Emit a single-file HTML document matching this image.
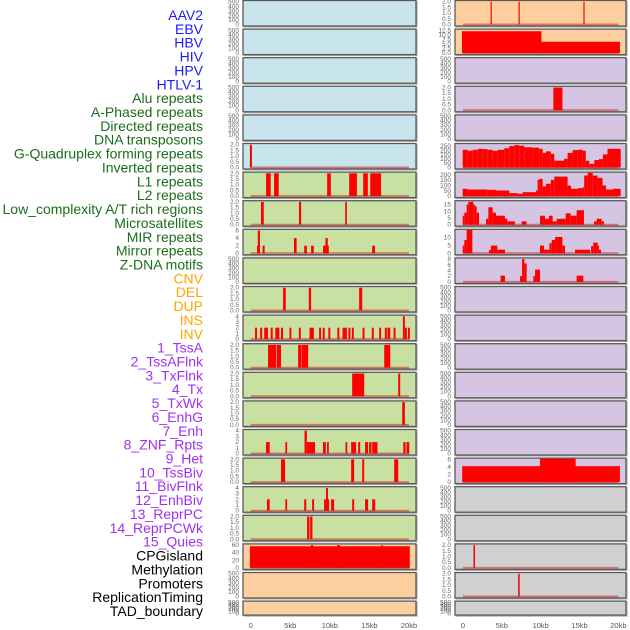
<!DOCTYPE html>
<html><head><meta charset="utf-8"><style>
html,body{margin:0;padding:0;background:#fff;}
svg{display:block;font-family:"Liberation Sans",sans-serif;}
</style></head><body>
<svg id="chart" width="630" height="630" viewBox="0 0 630 630" xmlns="http://www.w3.org/2000/svg"></svg>
<script>
// ---- data ----
const trackLabels = ["AAV2","EBV","HBV","HIV","HPV","HTLV-1","Alu repeats","A-Phased repeats","Directed repeats","DNA transposons","G-Quadruplex forming repeats","Inverted repeats","L1 repeats","L2 repeats","Low_complexity A/T rich regions","Microsatellites","MIR repeats","Mirror repeats","Z-DNA motifs","CNV","DEL","DUP","INS","INV","1_TssA","2_TssAFlnk","3_TxFlnk","4_Tx","5_TxWk","6_EnhG","7_Enh","8_ZNF_Rpts","9_Het","10_TssBiv","11_BivFlnk","12_EnhBiv","13_ReprPC","14_ReprPCWk","15_Quies","CPGisland","Methylation","Promoters","ReplicationTiming","TAD_boundary"];
const labelGroups = ["virus","virus","virus","virus","virus","virus","repeat","repeat","repeat","repeat","repeat","repeat","repeat","repeat","repeat","repeat","repeat","repeat","repeat","sv","sv","sv","sv","sv","chrom","chrom","chrom","chrom","chrom","chrom","chrom","chrom","chrom","chrom","chrom","chrom","chrom","chrom","chrom","other","other","other","other","other"];
const xTickValues = [0,5,10,15,20];
const xTickLabels = ["0","5kb","10kb","15kb","20kb"];

const leftBg = ["blue","blue","blue","blue","blue","blue","green","green","green","green","green","green","green","green","green","green","green","green","green","orange","orange","orange"];
const leftMax = [500,500,500,500,500,2,2,2,6,500,2,4,2,2,2,4,2,4,2,60,500,500];
const leftTicks = [[0,100,200,300,400,500],[0,100,200,300,400,500],[0,100,200,300,400,500],[0,100,200,300,400,500],[0,100,200,300,400,500],["0.0","0.5","1.0","1.5","2.0"],["0.0","0.5","1.0","1.5","2.0"],["0.0","0.5","1.0","1.5","2.0"],[0,2,4,6],[0,100,200,300,400,500],["0.0","0.5","1.0","1.5","2.0"],[0,1,2,3,4],["0.0","0.5","1.0","1.5","2.0"],["0.0","0.5","1.0","1.5","2.0"],["0.0","0.5","1.0","1.5","2.0"],[0,1,2,3,4],["0.0","0.5","1.0","1.5","2.0"],[0,1,2,3,4],["0.0","0.5","1.0","1.5","2.0"],[0,20,40,60],[0,100,200,300,400,500],[0,100,200,300,400,500]];
const leftBars = [
 [],[],[],[],[],
 [[-0.1,0.16,2]],
 [[1.94,2.53,2],[2.95,3.54,2],[9.66,10.12,2],[12.44,13.42,2],[14.21,14.8,2],[15.1,16.47,2]],
 [[1.3,1.65,2],[6.1,6.37,2],[11.94,12.15,2]],
 [[0.8,1.05,2],[0.9,1.17,6],[1.5,1.76,2],[5.47,5.8,4],[6.76,7.1,2],[7.63,7.97,2],[9.14,9.87,2],[9.44,9.74,4],[15.35,15.7,2]],
 [],
 [[4.09,4.43,2],[7.34,7.63,2],[13.7,14.09,2]],
 [[0.55,0.8,2],[1.2,1.45,2],[1.71,2.18,2],[2.53,2.78,2],[3.11,3.62,2],[3.83,4.09,2],[4.89,5.14,2],[6.08,6.33,2],[7.43,7.98,2],[8.64,8.89,2],[9.1,9.35,2],[9.81,10.06,2],[10.95,11.2,2],[11.6,12.15,2],[12.35,12.6,2],[12.78,13.03,2],[14.13,14.38,2],[15.3,15.55,2],[16.23,16.48,2],[16.95,17.2,2],[17.28,17.63,2],[18.05,18.3,2],[19.23,19.48,4],[19.48,19.73,2],[19.86,20.11,2]],
 [[2.19,3.2,2],[3.28,3.83,2],[5.99,6.41,2],[6.46,7.26,2],[16.87,17.63,2]],
 [[12.82,14.34,2],[18.64,18.89,2]],
 [[19.14,19.48,2]],
 [[1.94,2.4,2],[4.38,4.6,2],[6.8,7.1,4],[7.1,8.13,2],[9.14,9.49,2],[9.65,9.87,2],[11.98,12.2,2],[12.69,13.32,2],[13.58,13.83,2],[14.45,14.83,2],[14.96,15.26,2],[15.35,16.02,2],[19.28,19.57,2],[19.69,20.04,2]],
 [[3.83,4.34,2],[12.69,13.07,2],[14.09,14.34,2],[18.13,18.64,2]],
 [[2.06,2.4,2],[4.38,4.6,2],[6.76,7.02,2],[7.76,8.01,2],[9.27,9.9,2],[9.52,9.77,4],[10.16,10.54,2],[12.82,13.07,2],[14.45,14.83,2],[15.35,15.73,2]],
 [[7.12,7.42,2],[7.51,7.8,2]],
 [[-0.1,20.1,57],[7.6,7.9,60],[10.9,11.3,60],[16.5,16.7,60]],
 [],[]
];

const rightBg = ["orange","orange","purple","purple","purple","purple","purple","purple","purple","purple","purple","purple","purple","purple","purple","purple","purple","gray","gray","gray","gray","gray"];
const rightMax = [2,12.5,500,2,500,265,215,17,14.5,8,500,500,500,500,500,500,6,500,500,2,2,500];
const rightTicks = [["0.0","0.5","1.0","1.5","2.0"],["0.0","2.5","5.0","7.5","10.0","12.5"],[0,100,200,300,400,500],["0.0","0.5","1.0","1.5","2.0"],[0,100,200,300,400,500],[0,50,100,150,200,250],[0,50,100,150,200],[0,5,10,15],[0,5,10],[0,2,4,6,8],[0,100,200,300,400,500],[0,100,200,300,400,500],[0,100,200,300,400,500],[0,100,200,300,400,500],[0,100,200,300,400,500],[0,100,200,300,400,500],[0,2,4,6],[0,100,200,300,400,500],[0,100,200,300,400,500],["0.0","0.5","1.0","1.5","2.0"],["0.0","0.5","1.0","1.5","2.0"],[0,100,200,300,400,500]];
const rightBars = [
 [[3.55,3.7,2],[7.15,7.3,2],[15.5,15.65,2]],
 [[-0.13,10.1,12],[10.1,20.2,6.2]],
 [],
 [[11.63,12.8,2]],
 [],
 [[-0.04,0.6,206],[0.6,1.25,195],[1.25,1.9,206],[1.9,2.54,217],[2.54,3.18,213],[3.18,3.82,206],[3.82,4.47,195],[4.47,5.3,206],[5.3,5.96,224],[5.96,6.6,249],[6.6,7.25,260],[7.25,7.89,253],[7.89,8.96,235],[8.96,9.8,231],[9.8,10.25,217],[10.25,10.68,170],[10.68,11.3,188],[11.3,11.75,159],[11.75,13.0,79],[13.0,13.46,100],[13.46,14.1,170],[14.1,14.75,202],[14.75,15.4,206],[15.4,15.8,195],[15.8,16.25,79],[16.25,16.9,43],[16.9,17.5,87],[17.5,18.0,98],[18.0,18.6,152],[18.6,19.3,217],[19.3,20.3,217]],
 [[-0.04,0.6,69],[0.6,3.18,62],[3.18,4.25,59],[4.25,5.96,53],[5.96,7.04,28],[7.04,7.68,22],[7.68,9.4,37],[9.4,9.6,53],[9.6,9.8,153],[9.8,10.25,162],[10.25,10.68,91],[10.68,11.3,116],[11.3,11.75,153],[11.75,13.46,184],[13.46,13.9,100],[13.9,14.75,69],[14.75,15.4,75],[15.4,15.6,84],[15.6,16.04,194],[16.04,16.7,219],[16.7,17.3,194],[17.3,17.96,172],[17.96,18.4,100],[18.4,19.3,62],[19.3,20.3,69]],
 [[-0.04,0.17,6.7],[0.17,0.47,9],[0.47,0.69,15],[0.69,1.33,17],[1.33,1.54,15],[1.54,1.76,13.6],[1.76,2.06,9],[2.96,3.26,4.4],[3.26,3.82,13],[3.82,4.25,9],[4.25,5.4,6.7],[5.4,5.7,4.4],[5.7,6.69,2.5],[7.55,8.19,2.5],[9.91,10.55,6.7],[10.55,11.07,4.4],[11.07,11.54,6.7],[11.54,12.06,2.5],[12.06,13.22,4.4],[13.22,13.86,8.5],[13.86,14.63,6.7],[14.63,15.57,10.8],[16.86,17.2,2.5],[17.2,17.85,4.4],[17.85,18.15,2.5]],
 [[-0.04,0.17,4.9],[0.17,0.47,8.5],[0.47,1.2,14.9],[3.35,3.6,2.1],[3.6,4.42,4.9],[4.42,5.4,2.3],[9.91,10.43,4.9],[10.43,11.12,2.3],[11.12,11.42,6.4],[11.42,11.85,8.5],[11.85,12.79,10.4],[12.79,13.13,4.9],[14.42,16.35,2.3],[16.48,16.78,4.5],[16.78,17.33,6.8],[17.33,17.5,4.9],[17.5,17.76,2.3]],
 [[4.84,5.4,2.2],[7.34,7.6,2],[7.6,7.9,8],[7.9,8.19,6.5],[9.05,9.27,2],[9.27,9.91,4.3],[14.63,15.49,2.2]],
 [],[],[],[],[],[],
 [[-0.1,20.2,4.2],[9.9,14.5,6.2]],
 [],[],
 [[1.35,1.55,2]],
 [[7.1,7.3,2]],
 []
];

// ---- layout ----
const NS = "http://www.w3.org/2000/svg";
const svg = document.getElementById("chart");
const bgColors = {blue:"#c8e4ec",green:"#c8e0a2",orange:"#fecf9e",purple:"#d5c5e2",gray:"#d0d0d0"};
const groupColors = {virus:"#1a1aff",repeat:"#1a6e1a",sv:"#ffa500",chrom:"#a030f0",other:"#000000"};
const cols = [
 {left:243,right:416,x0:250.7,x20:409.0,tickX:239,bg:leftBg,max:leftMax,ticks:leftTicks,bars:leftBars,name:"left"},
 {left:455,right:626,x0:463.0,x20:618.4,tickX:451,bg:rightBg,max:rightMax,ticks:rightTicks,bars:rightBars,name:"right"}
];
function mk(tag, attrs){const e=document.createElementNS(NS,tag);for(const k in attrs)e.setAttribute(k,attrs[k]);return e;}
function rowTop(i){return 0.5 + i*28.6;}
function rowH(i){return i===21 ? 14 : 25.5;}

trackLabels.forEach((t,i)=>{
  const el = mk("text",{x:203,y:15+i*13.86,"text-anchor":"end","dominant-baseline":"central","font-size":"14",fill:groupColors[labelGroups[i]]});
  el.textContent = t;
  
  
  svg.appendChild(el);
});

cols.forEach(c=>{
  const xs = kb => c.x0 + (kb/20)*(c.x20 - c.x0);
  for(let i=0;i<22;i++){
    const top=rowTop(i), h=rowH(i), bottom=top+h;
    const yBase = bottom-1.5, yTop = top+1.2;
    const ys = v => yBase - (v/c.max[i])*(yBase-yTop);
    const g = mk("g",{});
    
    
    svg.appendChild(g);
    const sh = mk("rect",{x:c.left+1,y:top+1,width:c.right-c.left,height:h,fill:"none",stroke:"#b0b0b0","stroke-width":1.2});
    
    
    g.appendChild(sh);
    const bg = mk("rect",{x:c.left,y:top,width:c.right-c.left,height:h,fill:bgColors[c.bg[i]]});
    
    
    g.appendChild(bg);
    if(c.bars[i].length>0){
      const bl = mk("line",{x1:xs(0),x2:xs(20),y1:yBase,y2:yBase,stroke:"rgba(210,0,0,0.45)","stroke-width":2});
      
      
      g.appendChild(bl);
    }
    c.bars[i].forEach((b,j)=>{
      let x1=xs(b[0]), x2=xs(b[1]);
      if(x2-x1<1.2){const m=(x1+x2)/2;x1=m-0.6;x2=m+0.6;}
      const r = mk("rect",{x:x1,y:ys(b[2]),width:x2-x1,height:yBase-ys(b[2]),fill:"#ff0000"});
      
      
      g.appendChild(r);
    });
    const bd = mk("rect",{x:c.left,y:top,width:c.right-c.left,height:h,fill:"none",stroke:"#5a5a5a","stroke-width":1.3});
    
    
    g.appendChild(bd);
    c.ticks[i].forEach(t=>{
      const v = parseFloat(t);
      const te = mk("text",{x:c.tickX,y:ys(v)+2,"text-anchor":"end","font-size":"6.5",fill:"#666"});
      te.textContent = String(t);
      
      
      g.appendChild(te);
    });
  }
  xTickValues.forEach((v,k)=>{
    const te = mk("text",{x:xs(v),y:628,"text-anchor":"middle","font-size":"7.5",fill:"#555"});
    te.textContent = xTickLabels[k];
    
    
    svg.appendChild(te);
  });
});
</script>
</body></html>
